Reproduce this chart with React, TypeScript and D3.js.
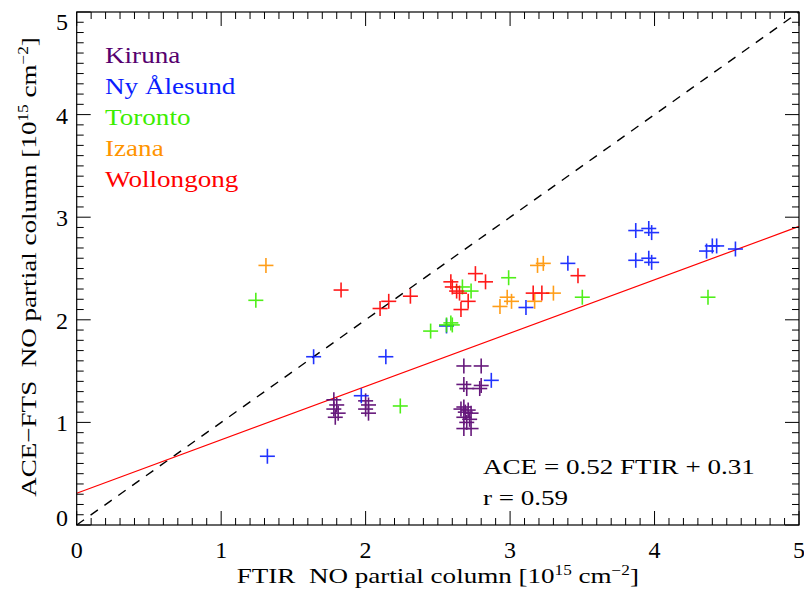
import React from "react";
import * as d3 from "d3";

const xTicks = [0, 1, 2, 3, 4, 5];
const yTicks = [0, 1, 2, 3, 4, 5];

const stations = ["Kiruna", "Ny Ålesund", "Toronto", "Izana", "Wollongong"];
const stationColors = ["#56006e", "#0a1eff", "#3cee00", "#ff9400", "#ff0000"];

const kiruna: [number, number][] = [
  [1.78, 1.22], [1.8, 1.17], [1.78, 1.13], [1.81, 1.09], [1.79, 1.05],
  [2.0, 1.21], [2.02, 1.17], [2.0, 1.13], [2.02, 1.09],
  [2.68, 1.55], [2.8, 1.55], [2.68, 1.37], [2.7, 1.33], [2.8, 1.36], [2.79, 1.33],
  [2.68, 1.15], [2.71, 1.12], [2.73, 1.09], [2.68, 1.05], [2.72, 1.03],
  [2.7, 1.0], [2.68, 0.94], [2.73, 0.94], [2.69, 1.1], [2.66, 1.13],
];
const nyAlesund: [number, number][] = [
  [1.32, 0.67], [1.64, 1.64], [2.14, 1.64], [1.97, 1.26], [2.87, 1.41],
  [2.56, 1.94], [3.11, 2.12], [3.4, 2.55],
  [3.87, 2.87], [3.96, 2.89], [3.98, 2.85], [3.87, 2.58], [3.96, 2.6], [3.98, 2.56],
  [4.36, 2.67], [4.4, 2.72], [4.43, 2.72], [4.56, 2.69],
];
const toronto: [number, number][] = [
  [1.24, 2.19], [2.24, 1.16], [2.45, 1.89], [2.56, 1.95], [2.6, 1.95], [2.59, 1.97],
  [2.67, 2.32], [2.73, 2.28], [2.99, 2.41], [3.5, 2.22], [4.37, 2.22],
];
const izana: [number, number][] = [
  [1.31, 2.53], [3.19, 2.53], [3.23, 2.55], [2.98, 2.22], [3.01, 2.18],
  [2.93, 2.13], [3.3, 2.26], [3.17, 2.18],
];
const wollongong: [number, number][] = [
  [1.83, 2.29], [2.1, 2.11], [2.16, 2.18], [2.31, 2.23], [2.59, 2.37], [2.6, 2.32],
  [2.76, 2.45], [2.83, 2.37], [2.65, 2.26], [2.71, 2.18], [2.66, 2.1], [2.63, 2.28],
  [3.16, 2.26], [3.22, 2.26], [3.47, 2.43],
];
const seriesData = [kiruna, nyAlesund, toronto, izana, wollongong];

const fitSlope = 0.52;
const fitIntercept = 0.31;
const fitText = "ACE = 0.52 FTIR + 0.31";
const rText = "r = 0.59";

const W = 804;
const H = 593;
const left = 76.7;
const right = 799;
const top = 12;
const bottom = 525;
const FONT = "Liberation Serif, Times New Roman, serif";
const SX = 1.23;

export default function App() {
  const x = d3.scaleLinear().domain([0, 5]).range([left, right]);
  const y = d3.scaleLinear().domain([0, 5]).range([bottom, top]);
  const minor = d3.range(0, 5.0001, 0.1);
  const line = d3.line<number>().x((v) => x(v)).y((v) => y(fitSlope * v + fitIntercept));
  const cs = 7.5;
  const tf = { fontFamily: FONT };

  return (
    <svg width={W} height={H} style={{ position: "absolute", left: 0, top: 0, background: "#fff" }}>
      <rect x={0} y={0} width={W} height={H} fill="#fff" />
      <line x1={x(0)} y1={y(0)} x2={x(5)} y2={y(5)} stroke="#000" strokeWidth={1.4} strokeDasharray="9,8" />
      <path d={line([0, 5]) || ""} stroke="#ff0000" strokeWidth={1.2} fill="none" />
      {seriesData.map((pts, si) => (
        <g key={si} stroke={stationColors[si]} strokeWidth={1.6} opacity={0.9}>
          {pts.map((p, i) => (
            <g key={i}>
              <line x1={x(p[0]) - cs} x2={x(p[0]) + cs} y1={y(p[1])} y2={y(p[1])} />
              <line x1={x(p[0])} x2={x(p[0])} y1={y(p[1]) - cs} y2={y(p[1]) + cs} />
            </g>
          ))}
        </g>
      ))}
      <rect x={left} y={top} width={right - left} height={bottom - top} fill="none" stroke="#000" strokeWidth={1.2} />
      <g stroke="#000" strokeWidth={1}>
        {minor.map((v, i) => {
          const major = i % 10 === 0;
          const len = major ? 14 : 7;
          return (
            <g key={i}>
              <line x1={x(v)} x2={x(v)} y1={bottom} y2={bottom - len} />
              <line x1={x(v)} x2={x(v)} y1={top} y2={top + len} />
              <line x1={left} x2={left + len} y1={y(v)} y2={y(v)} />
              <line x1={right} x2={right - len} y1={y(v)} y2={y(v)} />
            </g>
          );
        })}
      </g>
      {xTicks.map((t) => (
        <text key={"x" + t} x={x(t)} y={558} textAnchor="middle" style={tf} fontSize={24} fill="#000">{t}</text>
      ))}
      {yTicks.map((t) => {
        const cy = Math.min(Math.max(y(t), 21), 516.5);
        return (
          <text key={"y" + t} x={68} y={cy + 9} textAnchor="end" style={tf} fontSize={24} fill="#000">{t}</text>
        );
      })}
      <text transform={`translate(${(left + right) / 2}, 583) scale(${SX},1)`} textAnchor="middle" style={tf} fontSize={22} fill="#000">
        FTIR{"\u00a0\u00a0"}NO partial column [10<tspan dy={-8} fontSize={14}>15</tspan>
        <tspan dy={8}> cm</tspan>
        <tspan dy={-8} fontSize={14}>−2</tspan>
        <tspan dy={8}>]</tspan>
      </text>
      <text transform={`translate(36, 267) rotate(-90) scale(${SX},1)`} textAnchor="middle" style={tf} fontSize={22} fill="#000">
        ACE−FTS{"\u00a0\u00a0"}NO partial column [10<tspan dy={-8} fontSize={14}>15</tspan>
        <tspan dy={8}> cm</tspan>
        <tspan dy={-8} fontSize={14}>−2</tspan>
        <tspan dy={8}>]</tspan>
      </text>
      {stations.map((s, i) => (
        <text key={s} transform={`translate(105, ${63 + i * 31}) scale(1.18,1)`} fill={stationColors[i]} style={tf} fontSize={23}>{s}</text>
      ))}
      <text transform={`translate(483, 474) scale(${SX},1)`} style={tf} fontSize={22} fill="#000">{fitText}</text>
      <text transform={`translate(483, 505) scale(${SX},1)`} style={tf} fontSize={22} fill="#000">{rText}</text>
    </svg>
  );
}
